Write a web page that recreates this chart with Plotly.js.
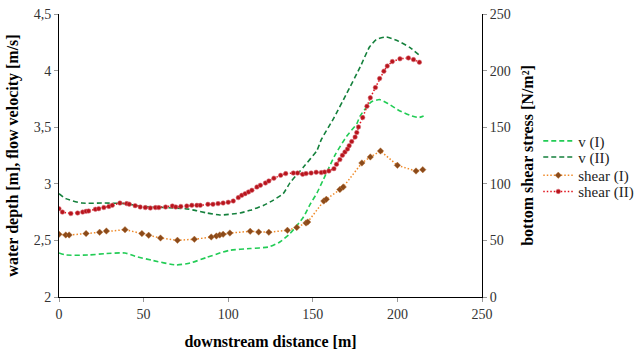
<!DOCTYPE html>
<html>
<head>
<meta charset="utf-8">
<script src="https://cdn.plot.ly/plotly-3.0.1.min.js"></script>
<style>html,body{margin:0;padding:0;background:#fff;}#chart{width:634px;height:351px;}</style>
</head>
<body>
<div id="chart"></div>
<script>
// downstream distance [m] and values
const v1X = [0, 4, 17.5, 27, 39, 45, 55, 69, 77.5, 87, 97, 101, 113, 124, 130.5, 136.5, 144.5, 148.5, 152.5, 156, 163, 170, 176, 178, 184.5, 189.5, 194.5, 201.5, 207.5, 212.5, 215.5];
const v1Y = [2.389, 2.371, 2.371, 2.383, 2.389, 2.36, 2.324, 2.283, 2.3, 2.348, 2.398, 2.413, 2.428, 2.442, 2.486, 2.56, 2.707, 2.82, 2.92, 3.03, 3.25, 3.42, 3.53, 3.6, 3.723, 3.744, 3.708, 3.643, 3.605, 3.585, 3.599];

const v2X = [0, 4, 13.5, 27, 39, 49, 63, 74.5, 80.5, 87.5, 95, 107, 113, 121, 126.5, 132.5, 136.5, 144.5, 152.5, 155, 162, 170, 178, 183.5, 187.5, 193.5, 199.5, 207.5, 213];
const v2Y = [2.913, 2.869, 2.83, 2.83, 2.825, 2.801, 2.79, 2.781, 2.765, 2.742, 2.724, 2.742, 2.766, 2.81, 2.854, 2.913, 3.008, 3.148, 3.296, 3.39, 3.57, 3.797, 4.032, 4.208, 4.274, 4.297, 4.268, 4.203, 4.135];

const s1X = [0, 4, 6, 16, 24, 28, 39, 49, 53, 60, 70, 80, 90, 93, 95, 97, 101, 113, 118, 124, 135, 140.5, 146, 147, 156.5, 158, 166, 168, 179, 184, 190, 200, 211, 215];
const s1Y = [55.4, 54.8, 54.8, 56, 57.2, 58.3, 59.5, 56, 54.5, 52.1, 50.1, 51, 53, 53.9, 54.8, 55.4, 56.5, 58, 57.4, 57.2, 58.9, 61.5, 65.4, 66.2, 84.8, 86.3, 94.9, 97.2, 118.4, 123.7, 129, 116.3, 111.3, 112.5];

const s2X = [0, 2, 7, 11, 14, 16, 17.5, 21.5, 23.5, 26.5, 29.5, 31.5, 36, 40, 41.5, 45, 48, 51, 54, 57, 59, 63, 67, 69, 72, 75.5, 78.5, 81.5, 83.5, 88, 91, 94, 97, 100, 103, 106, 108, 110, 112, 114, 117, 119, 122, 124, 127, 131, 134, 138.5, 141, 144, 146, 149, 152, 155, 157, 159.5, 162.5, 164, 166, 167.5, 169, 170.5, 171.5, 173, 175, 176, 177, 179.5, 182, 184, 187, 189.5, 192, 194, 197, 201.5, 206.5, 209.5, 213];
const s2Y = [78, 75, 73.7, 74.2, 75, 75.7, 76, 77.5, 78, 79, 80, 81, 83, 82.5, 82, 80.7, 79.5, 79, 78.6, 79, 79, 79.5, 80.4, 79.5, 80, 80.4, 81, 81, 81, 81.9, 81.9, 82.5, 83, 83.7, 84.8, 87.8, 89.8, 91.3, 92.8, 94.3, 97.2, 98.7, 100.7, 102.5, 105, 107.5, 109, 109.5, 109.5, 108.4, 109, 109.5, 110.2, 109.9, 110.4, 111.3, 113.4, 117.2, 121.4, 125.2, 128.1, 130.7, 133.7, 137.3, 141.3, 145.3, 150.2, 158.5, 168.5, 176, 185, 193, 199.5, 204, 208, 210.4, 211.2, 209.7, 207.4];

const seriesNames = ['v (I)', 'v (II)', 'shear (I)', 'shear (II)'];
const leftTicks = [2, 2.5, 3, 3.5, 4, 4.5];
const rightTicks = [0, 50, 100, 150, 200, 250];
const xTicks = [0, 50, 100, 150, 200, 250];

const FONT = 'Liberation Serif';

const traces = [
  {x: v1X, y: v1Y, name: seriesNames[0], mode: 'lines', yaxis: 'y', legend: 'legend',
   line: {color: '#22CC55', width: 1.6, dash: '5px,3px', shape: 'spline', smoothing: 0.5}},
  {x: v2X, y: v2Y, name: seriesNames[1], mode: 'lines', yaxis: 'y', legend: 'legend2',
   line: {color: '#14803C', width: 1.6, dash: '5px,3px', shape: 'spline', smoothing: 0.5}},
  {x: s1X, y: s1Y, name: seriesNames[2], mode: 'lines+markers', yaxis: 'y2', legend: 'legend3',
   line: {color: '#F08A28', width: 1.5, dash: '1.5px,2px'},
   marker: {symbol: 'diamond', size: 5, color: '#8B4A1A', line: {width: 0.6, color: 'rgba(190,120,60,0.7)'}}},
  {x: s2X, y: s2Y, name: seriesNames[3], mode: 'lines+markers', yaxis: 'y2', legend: 'legend4',
   line: {color: '#E0101A', width: 1.5, dash: '1.5px,2px'},
   marker: {symbol: 'circle', size: 4.5, color: '#B8141C', line: {width: 0.8, color: 'rgba(215,110,120,0.7)'}}}
];

function leg(yTop) {
  return {xref: 'container', yref: 'container', x: 0.849, y: yTop, xanchor: 'left', yanchor: 'top',
          bgcolor: 'rgba(0,0,0,0)', font: {family: FONT, size: 15, color: '#222'}, itemwidth: 30};
}

const layout = {
  width: 634, height: 351,
  margin: {l: 59, r: 152, t: 14, b: 54, pad: 0, autoexpand: false},
  paper_bgcolor: '#fff', plot_bgcolor: '#fff',
  separators: ', ',
  font: {family: FONT, size: 14, color: '#333'},
  showlegend: true,
  legend: leg(0.645),
  legend2: leg(0.599),
  legend3: leg(0.547),
  legend4: leg(0.501),
  xaxis: {range: [0, 250], tickvals: xTicks, showgrid: false, zeroline: false,
          showline: true, linecolor: '#000', linewidth: 1, ticks: 'outside', ticklen: 4, tickcolor: '#999',
          tickfont: {family: FONT, size: 14, color: '#333'},
          title: {text: '<b>downstream distance [m]</b>', font: {family: FONT, size: 16, color: '#000'}, standoff: 15}},
  yaxis: {range: [2, 4.5], tickvals: leftTicks, showgrid: false, zeroline: false,
          showline: true, linecolor: '#000', linewidth: 1, ticks: 'outside', ticklen: 4, tickcolor: '#999',
          tickfont: {family: FONT, size: 14, color: '#333'},
          title: {text: '<b>water depth [m], flow velocity [m/s]</b>', font: {family: FONT, size: 16, color: '#000'}, standoff: 11}},
  yaxis2: {range: [0, 250], tickvals: rightTicks, overlaying: 'y', side: 'right',
           showgrid: false, zeroline: false, showline: true, linecolor: '#000', linewidth: 1,
           ticks: 'outside', ticklen: 4, tickcolor: '#999',
           tickfont: {family: FONT, size: 14, color: '#333'},
           title: {text: '<b>bottom shear stress [N/m²]</b>', font: {family: FONT, size: 16, color: '#000'}, standoff: 12}}
};

Plotly.newPlot('chart', traces, layout, {displayModeBar: false, staticPlot: true});
</script>
</body>
</html>
